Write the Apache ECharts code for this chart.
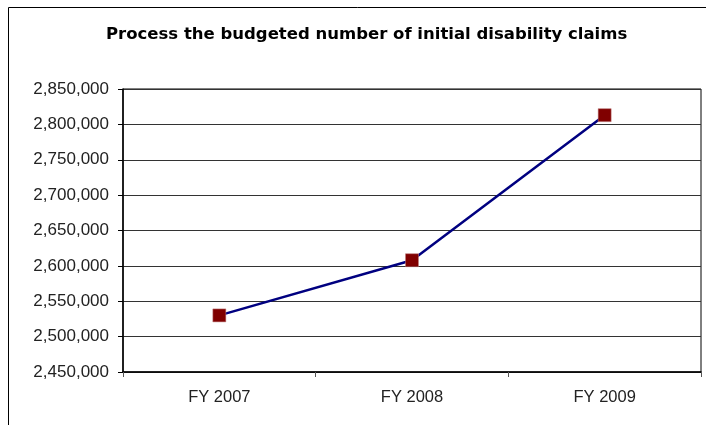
<!DOCTYPE html>
<html>
<head>
<meta charset="utf-8">
<script src="https://cdn.jsdelivr.net/npm/echarts@6/dist/echarts.min.js"></script>
<style>
  html, body { margin: 0; padding: 0; background: #fff; }
  #chart { width: 706px; height: 425px; }
</style>
</head>
<body>
<div id="chart"></div>
<script>
var categories = ['FY 2007', 'FY 2008', 'FY 2009'];
var claims = [2530000, 2608000, 2813000];

var chart = echarts.init(document.getElementById('chart'));

function fmt(v) {
    return v.toString().replace(/\B(?=(\d{3})+(?!\d))/g, ',');
}

var option = {
    backgroundColor: '#fff',
    animation: false,
    title: {
        text: 'Process the budgeted number of initial disability claims',
        left: 101,
        top: 21,
        textStyle: {
            fontFamily: 'DejaVu Sans',
            fontSize: 16.5,
            fontWeight: 'bold',
            color: '#000'
        }
    },
    graphic: [{
        type: 'rect',
        shape: { x: 8.5, y: 7.5, width: 720, height: 440 },
        style: { fill: 'none', stroke: '#000', lineWidth: 1 }
    }],
    grid: {
        left: 123,
        right: 5,
        top: 89,
        bottom: 53,
        show: true,
        borderColor: '#000',
        borderWidth: 1
    },
    xAxis: {
        type: 'category',
        data: categories,
        boundaryGap: true,
        axisLine: { lineStyle: { color: '#000', width: 1.5 } },
        axisTick: { show: true, length: 5, lineStyle: { color: '#555' } },
        axisLabel: {
            fontFamily: 'Liberation Sans',
            fontSize: 16.5,
            color: '#222',
            margin: 17
        }
    },
    yAxis: {
        type: 'value',
        min: 2450000,
        max: 2850000,
        interval: 50000,
        axisLine: { show: true, lineStyle: { color: '#000', width: 1.5 } },
        axisTick: { show: true, length: 5, lineStyle: { color: '#000' } },
        axisLabel: {
            fontFamily: 'Liberation Sans',
            fontSize: 17,
            color: '#222',
            margin: 14,
            formatter: fmt
        },
        splitLine: { lineStyle: { color: '#333', width: 1 } }
    },
    series: [{
        type: 'line',
        data: claims,
        symbol: 'rect',
        symbolSize: 13,
        lineStyle: { color: '#000080', width: 2.5 },
        itemStyle: { color: '#800000', borderColor: '#c08080', borderWidth: 0.5 },
        z: 5
    }]
};

chart.setOption(option);
</script>
</body>
</html>
